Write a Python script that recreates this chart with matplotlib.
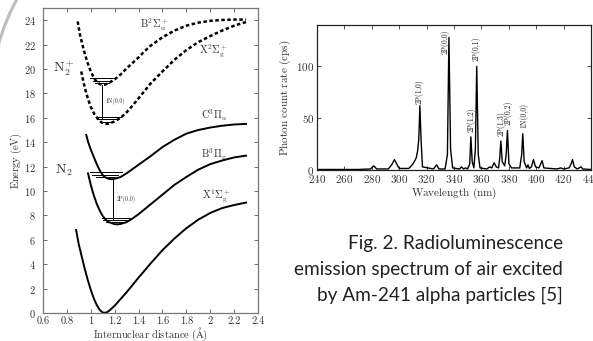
import matplotlib
matplotlib.use("Agg")
import matplotlib.pyplot as plt
from matplotlib.patches import Arc

plt.rcParams['font.family'] = ['cmr10', 'DejaVu Serif']
plt.rcParams['mathtext.fontset'] = 'cm'
plt.rcParams['axes.formatter.use_mathtext'] = True

# ---------------- potential curves (left) ----------------
x1_r = [0.877, 0.90, 0.925, 0.95, 0.975, 1.0, 1.025, 1.05, 1.075, 1.10, 1.125, 1.15, 1.2, 1.25,
        1.3, 1.35, 1.4, 1.5, 1.6, 1.7, 1.8, 1.9, 2.0, 2.1, 2.2, 2.3]
x1_e = [6.8, 5.6, 4.6, 3.6, 2.7, 1.9, 1.2, 0.65, 0.25, 0.04, 0.02, 0.15, 0.6, 1.15,
        1.7, 2.3, 2.9, 4.05, 5.15, 6.1, 6.95, 7.65, 8.2, 8.6, 8.85, 9.05]

b3_r = [0.977, 1.0, 1.025, 1.05, 1.075, 1.1, 1.125, 1.15, 1.2, 1.225, 1.25, 1.3, 1.35, 1.4,
        1.45, 1.5, 1.6, 1.7, 1.8, 1.9, 2.0, 2.1, 2.2, 2.3]
b3_e = [11.45, 10.5, 9.65, 8.95, 8.4, 7.95, 7.65, 7.45, 7.28, 7.27, 7.3, 7.45, 7.75, 8.1,
        8.5, 8.9, 9.7, 10.5, 11.15, 11.75, 12.2, 12.5, 12.75, 12.9]

c3_r = [0.962, 0.98, 1.0, 1.025, 1.05, 1.075, 1.1, 1.125, 1.15, 1.175, 1.2, 1.25, 1.3, 1.35,
        1.4, 1.5, 1.6, 1.7, 1.8, 1.9, 2.0, 2.1, 2.2, 2.3]
c3_e = [14.6, 13.95, 13.4, 12.8, 12.2, 11.7, 11.3, 11.1, 11.0, 10.97, 11.0, 11.15, 11.45, 11.8,
        12.15, 12.85, 13.6, 14.2, 14.7, 15.0, 15.2, 15.35, 15.45, 15.5]

b2_r = [0.89, 0.91, 0.94, 0.97, 1.0, 1.03, 1.06, 1.09, 1.12, 1.15, 1.2, 1.25, 1.3, 1.35, 1.4,
        1.45, 1.5, 1.6, 1.7, 1.8, 1.9, 2.0, 2.1, 2.2, 2.3]
b2_e = [23.9, 22.8, 21.6, 20.6, 19.8, 19.2, 18.85, 18.7, 18.72, 18.85, 19.15, 19.55, 20.05, 20.5,
        20.95, 21.45, 21.9, 22.6, 23.15, 23.55, 23.8, 23.95, 24.02, 24.05, 24.05]

x2_r = [0.92, 0.94, 0.96, 0.98, 1.0, 1.03, 1.06, 1.09, 1.12, 1.15, 1.2, 1.25, 1.3, 1.35, 1.4,
        1.45, 1.5, 1.6, 1.7, 1.8, 1.9, 2.0, 2.1, 2.2, 2.3]
x2_e = [19.8, 18.9, 18.1, 17.45, 16.9, 16.3, 15.9, 15.62, 15.5, 15.52, 15.7, 16.0, 16.45, 17.0,
        17.6, 18.2, 18.8, 19.8, 20.75, 21.55, 22.2, 22.7, 23.15, 23.55, 23.85]

# vibrational levels: energy, r start, r end
lev_e = [19.24, 19.02, 18.85, 16.09, 15.87, 15.68, 11.53, 11.31, 11.12, 7.81, 7.62, 7.43]
lev_r0 = [0.996, 1.018, 1.037, 1.04, 1.06, 1.08, 0.99, 1.01, 1.04, 1.09, 1.10, 1.13]
lev_r1 = [1.204, 1.177, 1.15, 1.25, 1.22, 1.19, 1.26, 1.23, 1.20, 1.34, 1.32, 1.29]

trans_r = [1.095, 1.19]
trans_top = [18.7, 11.0]
trans_bot = [16.0, 7.6]
trans_lbl = ['1N(0,0)', '2P(0,0)']

x_ticks = [0.6, 0.8, 1.0, 1.2, 1.4, 1.6, 1.8, 2.0, 2.2, 2.4]
x_tick_labels = ['0.6', '0.8', '1', '1.2', '1.4', '1.6', '1.8', '2', '2.2', '2.4']
y_ticks = [0, 2, 4, 6, 8, 10, 12, 14, 16, 18, 20, 22, 24]

# ---------------- spectrum (right) ----------------
wl = [240, 270, 279, 281.5, 283.5, 292, 294.5, 296.5, 298.5, 300, 307, 309.5, 311, 312.5, 313.5,
      314.3, 315.1, 316.0, 317, 325, 327.3, 329, 333.5, 335.2, 336.3, 337.5, 339, 344, 345.5, 347,
      348.5, 350, 351.5, 352.3, 353.3, 354.5, 355.6, 356.6, 357.7, 359, 364, 366, 367.5, 369.3,
      370.8, 372.5, 373.4, 374.2, 375.2, 377, 378.1, 379.0, 380.1, 382, 388, 389.4, 390.2, 391.2,
      393, 394, 395, 396.5, 398, 399.5, 402, 403, 404.3, 405.6, 415, 418, 420, 424, 425.5, 426.5,
      427.8, 430, 432.7, 434, 440]
cps = [0.5, 0.5, 1, 4, 1, 1, 5, 10, 5, 1.5, 1.5, 5, 8, 12, 19,
       30, 62, 28, 3, 1, 5, 1, 1, 15, 128, 20, 2, 1, 3, 1,
       2, 1, 6, 32, 8, 2, 20, 100, 15, 2, 1, 3, 2, 7,
       3, 2, 12, 28, 8, 4, 15, 38, 6, 2, 2, 15, 35, 8,
       2, 5, 1.5, 3, 10, 3, 2, 5, 9, 2, 1, 2, 1, 2, 6, 10,
       3, 1, 3, 1, 0.5]

peak_lbl = ['2P(1,0)', '2P(0,0)', '2P(1,2)', '2P(0,1)', '2P(1,3)', '2P(0,2)', '1N(0,0)']
peak_lbl_x = [314.4, 333.4, 352.2, 356.3, 374.0, 379.5, 390.7]
peak_lbl_y = [76, 124, 49, 117, 45, 55, 53]

fig = plt.figure(figsize=(5.93, 3.41), dpi=100)

# decorative arc in upper-left corner
arc = Arc((200, 341 - 100), 418, 418, theta1=150, theta2=180, color='#bdbdbd', lw=2.2,
          transform=None)
fig.patches.append(arc)

grey = '#555555'
ax = fig.add_axes([43 / 593, 1 - 313 / 341, 215 / 593, 305 / 341])
ax.plot(x1_r, x1_e, color='black', lw=1.4)
ax.plot(b3_r, b3_e, color='black', lw=1.4)
ax.plot(c3_r, c3_e, color='black', lw=1.4)
ax.plot(b2_r, b2_e, color='black', lw=1.8, ls=(0, (1.4, 1.0)))
ax.plot(x2_r, x2_e, color='black', lw=1.8, ls=(0, (1.4, 1.0)))
for e, a, b in zip(lev_e, lev_r0, lev_r1):
    ax.plot([a, b], [e, e], color='black', lw=0.7)
for r, t, b, l in zip(trans_r, trans_top, trans_bot, trans_lbl):
    ax.plot([r, r], [b, t], color='black', lw=0.7)
    ax.text(r + 0.03, (t + b) / 2, l, fontsize=4.2, va='center', ha='left', color='#333333')

ax.text(0.775, 20.0, r'$\mathrm{N}_2^+$', fontsize=10, ha='center', va='center', color='#333333')
ax.text(0.775, 11.7, r'$\mathrm{N}_2$', fontsize=10, ha='center', va='center', color='#333333')
ax.text(1.53, 23.6, r'$\mathrm{B}^2\Sigma_\mathrm{u}^+$', fontsize=7.5, ha='center', va='center', color='#333333')
ax.text(2.03, 21.5, r'$\mathrm{X}^2\Sigma_\mathrm{g}^+$', fontsize=7.5, ha='center', va='center', color='#333333')
ax.text(2.03, 16.2, r'$\mathrm{C}^3\Pi_\mathrm{u}$', fontsize=7.5, ha='center', va='center', color='#333333')
ax.text(2.03, 13.0, r'$\mathrm{B}^3\Pi_\mathrm{g}$', fontsize=7.5, ha='center', va='center', color='#333333')
ax.text(2.05, 9.6, r'$\mathrm{X}^1\Sigma_\mathrm{g}^+$', fontsize=7.5, ha='center', va='center', color='#333333')

ax.set_xlim(0.6, 2.4)
ax.set_ylim(0, 25)
ax.set_xticks(x_ticks)
ax.set_xticklabels(x_tick_labels)
ax.set_yticks(y_ticks)
ax.tick_params(direction='in', top=True, right=True, labelsize=7.5, length=3, width=0.6,
               colors=grey, labelcolor='#333333', pad=2.5)
ax.tick_params(axis='y', pad=5)
for s in ax.spines.values():
    s.set_color('#777777')
    s.set_linewidth(0.9)
ax.set_xlabel(r'$\mathrm{Internuclear\ distance\ (\AA)}$', fontsize=7.5, color='#333333', labelpad=0)
ax.set_ylabel(r'$\mathrm{Energy\ (eV)}$', fontsize=7.5, color='#333333', labelpad=0)

# ---------------- right panel ----------------
ax2 = fig.add_axes([317 / 593, 1 - 170 / 341, 274 / 593, 145 / 341])
ax2.plot(wl, cps, color='black', lw=1.0)
for t, x, y in zip(peak_lbl, peak_lbl_x, peak_lbl_y):
    ax2.text(x, y, t, rotation=90, fontsize=5.5, ha='center', va='center', color='#222222')
ax2.set_xlim(240, 440)
ax2.set_ylim(0, 140)
ax2.set_xticks(list(range(240, 441, 20)))
ax2.set_yticks([0, 50, 100])
ax2.tick_params(direction='in', top=True, right=True, labelsize=8, length=3, width=0.6,
                colors='#333333', pad=2)
for s in ax2.spines.values():
    s.set_color('#222222')
    s.set_linewidth(0.9)
ax2.set_xlabel(r'$\mathrm{Wavelength\ (nm)}$', fontsize=8, color='#333333', labelpad=1)
ax2.set_ylabel(r'$\mathrm{Photon\ count\ rate\ (cps)}$', fontsize=8, color='#333333', labelpad=2)

# ---------------- caption ----------------
cap = ['Fig. 2. Radioluminescence', 'emission spectrum of air excited', 'by Am-241 alpha particles [5]']
cap_y = [243, 270, 295]
for t, y in zip(cap, cap_y):
    fig.text(563 / 593, 1 - y / 341, t, ha='right', va='center', fontsize=13.7,
             family=['Lato', 'DejaVu Sans'], color='#222222')

fig.savefig('out.png', dpi=100)
